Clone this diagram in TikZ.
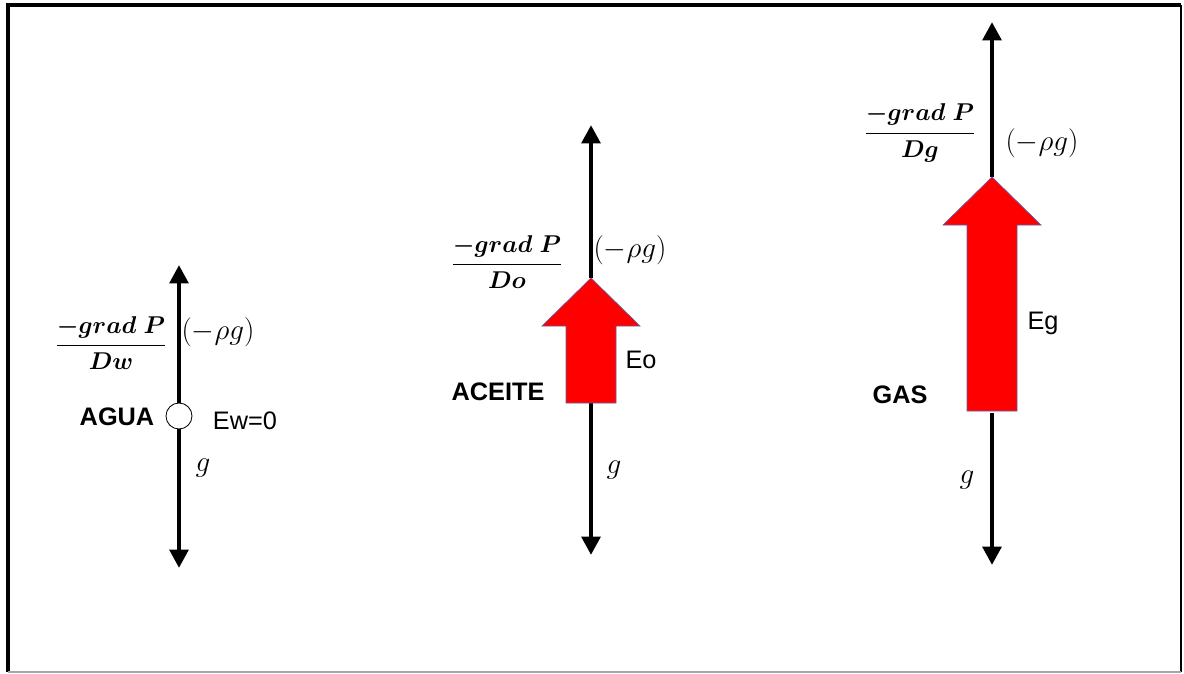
\documentclass[tikz,border=0pt]{standalone}
\usepackage{fontspec}
\setmainfont{Liberation Sans}
\usetikzlibrary{arrows.meta}

\begin{document}
\begin{tikzpicture}[x=0.025cm,y=-0.025cm,
  force/.style={line width=3.5pt,-{Triangle[length=4.6mm,width=4.6mm]}},
  flux/.style={fill=red,draw=blue!25!gray,line width=0.5pt},
  phase/.style={font=\fontsize{18}{22}\selectfont\bfseries,inner sep=0pt},
  lbl/.style={font=\fontsize{18}{22}\selectfont,inner sep=0pt},
  eq/.style={font=\fontsize{18.5}{22}\selectfont\boldmath,inner sep=0pt},
  sym/.style={font=\fontsize{21}{25}\selectfont,inner sep=0pt},
  bubble/.style={circle,draw,fill=white,line width=0.6pt,inner sep=0pt,minimum size=0.65cm}
]
  \useasboundingbox (0,0) rectangle (1184,673);
  \draw[line width=2.8pt] (8,672) -- (8,5) -- (1181,5);
  \draw[line width=1.4pt] (1181,5) -- (1181,672);
  \draw[gray!70,line width=0.8pt] (8,672) -- (1181,672);

  \node[bubble] (water) at (179,416) {};
  \coordinate (waterTop) at (179,265);
  \coordinate (waterBot) at (179,568);
  \draw[force] (water) -- (waterTop);
  \draw[force] (water) -- (waterBot);
  \node[eq]    (wfrac) at (111,343) {$\displaystyle\frac{-grad\ P}{Dw}$};
  \node[sym]   (wrho)  at (218,332) {$(-\rho g)$};
  \node[phase] (wname) at (117,417) {AGUA};
  \node[lbl]   (wE)    at (245,421) {Ew=0};
  \node[sym]   (wg)    at (203,468) {$g$};

  \coordinate (oilTip)  at (591,278);
  \coordinate (oilTail) at (591,403);
  \coordinate (oilTop)  at (591,125);
  \coordinate (oilBot)  at (591,555);
  \draw[force] (oilTip) -- (oilTop);
  \draw[force] (oilTail) -- (oilBot);
  \draw[flux] (oilTip) -- ++(49,48) -- ++(-24,0) -- ++(0,77) -- ++(-50,0) -- ++(0,-77) -- ++(-24,0) -- cycle;
  \node[eq]    (ofrac) at (507,262) {$\displaystyle\frac{-grad\ P}{Do}$};
  \node[sym]   (orho)  at (630,250) {$(-\rho g)$};
  \node[phase] (oname) at (498,392) {ACEITE};
  \node[lbl]   (oE)    at (641,360) {Eo};
  \node[sym]   (og)    at (614,470) {$g$};

  \coordinate (gasTip)  at (992,177);
  \coordinate (gasTail) at (992,413);
  \coordinate (gasTop)  at (992,22);
  \coordinate (gasBot)  at (992,565);
  \draw[force] (gasTip) -- (gasTop);
  \draw[force] (gasTail) -- (gasBot);
  \draw[flux] (gasTip) -- ++(49,48) -- ++(-24,0) -- ++(0,186) -- ++(-50,0) -- ++(0,-186) -- ++(-24,0) -- cycle;
  \node[eq]    (gfrac) at (920,133) {$\displaystyle\frac{-grad\ P}{Dg}$};
  \node[sym]   (grho)  at (1042,143) {$(-\rho g)$};
  \node[phase] (gname) at (900,395) {GAS};
  \node[lbl]   (gE)    at (1043,323) {Eg};
  \node[sym]   (gg)    at (967,480) {$g$};
\end{tikzpicture}
\end{document}
